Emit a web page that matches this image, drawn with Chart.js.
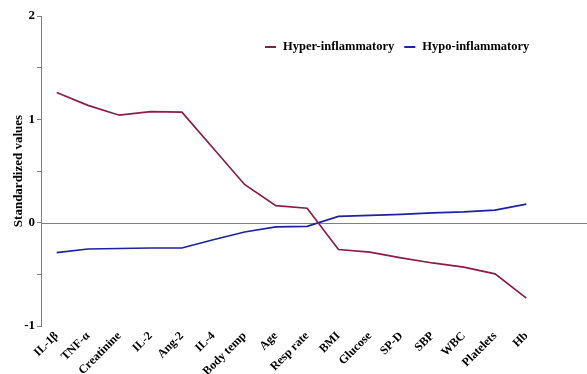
<!DOCTYPE html>
<html>
<head>
<meta charset="utf-8">
<script src="https://cdn.jsdelivr.net/npm/chart.js@4.4.0/dist/chart.umd.min.js"></script>
<style>
  body { margin: 0; background: #fff; }
  #wrap { width: 587px; height: 374px; }
</style>
</head>
<body>
<div id="wrap"><canvas id="grafico" width="587" height="374"></canvas></div>
<script>
// datos
const categorias = ['IL-1β', 'TNF-α', 'Creatinine', 'IL-2', 'Ang-2', 'IL-4', 'Body temp', 'Age',
  'Resp rate', 'BMI', 'Glucose', 'SP-D', 'SBP', 'WBC', 'Platelets', 'Hb'];
const hiper = [1.26, 1.135, 1.04, 1.075, 1.07, 0.72, 0.37, 0.165, 0.14, -0.26, -0.285, -0.34, -0.39, -0.43, -0.495, -0.73];
const hipo = [-0.29, -0.255, -0.25, -0.245, -0.245, -0.165, -0.09, -0.04, -0.035, 0.06, 0.07, 0.08, 0.095, 0.105, 0.122, 0.18];
const ticksY = [-1, 0, 1, 2];

const fuente = '"Liberation Serif", "Times New Roman", serif';
const colHiper = '#8c1c4a';
const colHipo = '#1c22a0';

// linea del cero que llega hasta el borde derecho
const lineaCero = {
  id: 'lineaCero',
  beforeDatasetsDraw(chart) {
    const ctx = chart.ctx;
    const y = chart.scales.y.getPixelForValue(0);
    ctx.save();
    ctx.strokeStyle = '#808080';
    ctx.lineWidth = 1;
    ctx.beginPath();
    ctx.moveTo(chart.chartArea.left, Math.round(y) + 0.5);
    ctx.lineTo(chart.width, Math.round(y) + 0.5);
    ctx.stroke();
    ctx.restore();
  }
};

// leyenda dentro del area del grafico
const leyenda = {
  id: 'leyenda',
  afterDraw(chart) {
    const ctx = chart.ctx;
    ctx.save();
    ctx.font = 'bold 12.5px ' + fuente;
    ctx.textBaseline = 'middle';
    let x = 265;
    const y = 47;
    chart.data.datasets.forEach(ds => {
      ctx.strokeStyle = ds.borderColor;
      ctx.lineWidth = 2;
      ctx.beginPath();
      ctx.moveTo(x, y);
      ctx.lineTo(x + 11, y);
      ctx.stroke();
      ctx.fillStyle = '#000';
      ctx.fillText(ds.label, x + 18, y);
      x += 18 + ctx.measureText(ds.label).width + 10;
    });
    ctx.restore();
  }
};

const ctx = document.getElementById('grafico').getContext('2d');
const grafico = new Chart(ctx, {
  type: 'line',
  data: {
    labels: categorias,
    datasets: [
      { label: 'Hyper-inflammatory', data: hiper, borderColor: colHiper, borderWidth: 1.7, pointRadius: 0, tension: 0 },
      { label: 'Hypo-inflammatory', data: hipo, borderColor: colHipo, borderWidth: 1.7, pointRadius: 0, tension: 0 }
    ]
  },
  options: {
    responsive: false,
    animation: false,
    layout: { padding: { top: 16, right: 45, left: 7, bottom: 0 } },
    plugins: { legend: { display: false }, tooltip: { enabled: false } },
    scales: {
      x: {
        offset: true,
        grid: { display: false, drawTicks: false },
        border: { display: false },
        ticks: {
          color: '#000',
          font: { family: fuente, weight: 'bold', size: 12 },
          maxRotation: 45, minRotation: 45,
          padding: 3,
          autoSkip: false
        },
        afterFit(s) { s.height = 48; }
      },
      y: {
        min: -1, max: 2,
        grid: { drawOnChartArea: false, drawTicks: true, tickLength: 4, color: '#808080' },
        border: { display: true, color: '#808080', width: 1 },
        ticks: {
          stepSize: 0.5,
          color: '#000',
          font: { family: fuente, weight: 'bold', size: 13 },
          padding: 2,
          callback: v => ticksY.includes(v) ? v : ''
        },
        title: {
          display: true,
          text: 'Standardized values',
          color: '#000',
          font: { family: fuente, weight: 'bold', size: 13 },
          padding: 4
        },
        afterFit(s) { s.width = 34; }
      }
    }
  },
  plugins: [lineaCero, leyenda]
});
</script>
</body>
</html>
